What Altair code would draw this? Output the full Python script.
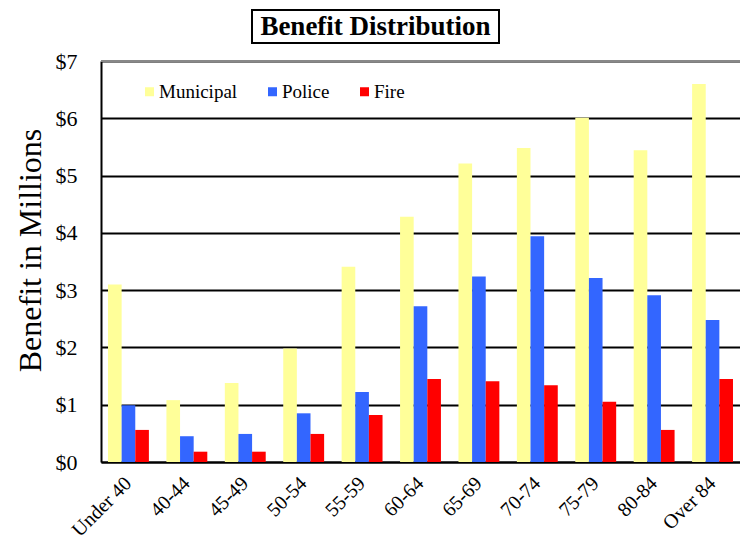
import altair as alt
import pandas as pd

age_groups = ["Under 40", "40-44", "45-49", "50-54", "55-59", "60-64",
              "65-69", "70-74", "75-79", "80-84", "Over 84"]
municipal = [3.10, 1.08, 1.38, 1.98, 3.41, 4.28, 5.21, 5.48, 6.01, 5.44, 6.60]
police = [0.99, 0.45, 0.49, 0.85, 1.22, 2.72, 3.24, 3.94, 3.21, 2.91, 2.48]
fire = [0.56, 0.18, 0.18, 0.49, 0.82, 1.45, 1.41, 1.34, 1.05, 0.56, 1.45]
series_names = ["Municipal", "Police", "Fire"]
series_colors = ["#FFFF99", "#3366FF", "#FF0000"]
y_ticks = [0, 1, 2, 3, 4, 5, 6, 7]
chart_title = "Benefit Distribution"
y_title = "Benefit in Millions"

rows = []
for name, vals in zip(series_names, [municipal, police, fire]):
    for g, v in zip(age_groups, vals):
        rows.append({"Age": g, "Plan": name, "Benefit": v})
df = pd.DataFrame(rows)

W, H = 639, 401
FONT = "Liberation Serif"

bars = alt.Chart(df).mark_bar().encode(
    x=alt.X("Age:N", sort=age_groups,
            scale=alt.Scale(paddingInner=0.3, paddingOuter=0.12),
            axis=alt.Axis(title=None, labelAngle=-45, labelFontSize=20,
                          labelFont=FONT, labelColor="black", ticks=False,
                          labelAlign="right", labelBaseline="middle",
                          domainColor="black", domainWidth=2,
                          labelPadding=18, grid=False)),
    xOffset=alt.XOffset("Plan:N", sort=series_names),
    y=alt.Y("Benefit:Q", scale=alt.Scale(domain=[0, 7]),
            axis=alt.Axis(title=y_title, values=y_ticks,
                          labelExpr="'$' + datum.value",
                          labelFont=FONT, labelFontSize=22, labelColor="black",
                          labelPadding=24, ticks=False,
                          grid=True, gridColor="black", gridWidth=2,
                          domainColor="black", domainWidth=2,
                          titleFont=FONT, titleFontSize=32,
                          titleFontWeight="normal", titleColor="black",
                          titlePadding=8, titleY=189)),
    color=alt.Color("Plan:N", sort=series_names,
                    scale=alt.Scale(domain=series_names, range=series_colors),
                    legend=alt.Legend(title=None, orient="none", legendX=39,
                                      legendY=21, direction="horizontal",
                                      symbolType="square", symbolSize=81,
                                      symbolStrokeWidth=0, symbolOpacity=1,
                                      labelFont=FONT, labelFontSize=19,
                                      labelColor="black", labelOffset=0,
                                      columnPadding=25)),
)

one = alt.Data(values=[{}])

top_rule = alt.Chart(one).mark_rule(color="#888888", strokeWidth=2).encode(
    x=alt.value(0), x2=alt.value(W), y=alt.value(0)
)

title_box = alt.Chart(one).mark_rect(fill="white", stroke="black",
                                     strokeWidth=2).encode(
    x=alt.value(151), x2=alt.value(398), y=alt.value(-51), y2=alt.value(-18)
)

title_text = alt.Chart(one).mark_text(text=chart_title, font=FONT,
                                      fontSize=27, fontWeight="bold",
                                      color="black", align="center",
                                      baseline="middle").encode(
    x=alt.value(274.5), y=alt.value(-34)
)

chart = alt.layer(bars, top_rule, title_box, title_text).properties(
    width=W, height=H,
    autosize="none",
    padding={"left": 93, "top": 53, "right": 0, "bottom": 84},
).configure_view(stroke=None).configure(background="white")

chart.save("out.html", embed_options={"renderer": "svg", "actions": False})
